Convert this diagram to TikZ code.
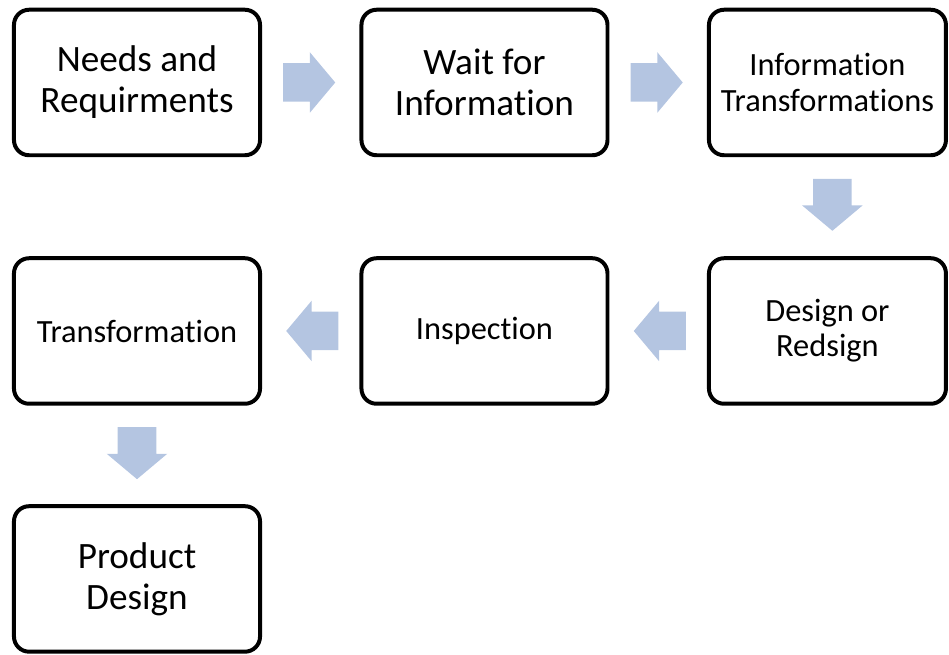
\documentclass[tikz,border=0pt]{standalone}
\usepackage{fontspec}
\setmainfont[RawFeature={-liga;-clig;-calt;-dlig}]{Carlito}
\usetikzlibrary{shapes.arrows}
\definecolor{flowblue}{RGB}{180,197,225}
\tikzset{
	stage/.style={shape=rectangle, draw, line width=3pt, rounded corners=0.4cm, minimum width=6.51cm, minimum height=3.85cm, align=center, inner sep=0pt},
	bigtext/.style={font=\fontsize{28}{31}\selectfont},
	smalltext/.style={font=\fontsize{24.4}{26.5}\selectfont},
	% block arrow hung on a path by its tail, turned with it
	flow/.style={shape=single arrow, fill=flowblue, sloped, allow upside down, anchor=tail, pos=0.215, inner xsep=0pt, inner ysep=0.5025cm, minimum height=1.376cm, single arrow head extend=0.291cm, single arrow tip angle=100},
}

\begin{document}
\begin{tikzpicture}
	\useasboundingbox (0, 0) rectangle (25.11, 17.33);
	% Boxes, first row:
	\node[stage, bigtext] (needs) at (3.625, 15.147) {Needs and\\Requirments};
	\node[stage, bigtext] (wait) at (12.819, 15.147) {Wait for\\Information};
	\node[stage, smalltext, minimum width=6.27cm] (infotrans) at (21.894, 15.147) {Information\\Transformations};
	% second row, read right to left:
	\node[stage, smalltext, minimum width=6.27cm] (design) at (21.894, 8.572) {Design or\\Redsign};
	\node[stage, smalltext] (inspect) at (12.819, 8.572) {Inspection};
	\node[stage, smalltext] (transf) at (3.625, 8.572) {Transformation};
	% result:
	\node[stage, bigtext] (product) at (3.625, 2.011) {Product\\Design};
	% Block arrows between the boxes:
	\path (needs) -- node[flow] (a1) {} (wait);
	\path (wait) -- node[flow] (a2) {} (infotrans);
	\path ([xshift=0.13cm]infotrans.south) -- node[flow] (a3) {} ([xshift=0.13cm]design.north);
	\path (design) -- node[flow] (a4) {} (inspect);
	\path (inspect) -- node[flow] (a5) {} (transf);
	\path (transf) -- node[flow] (a6) {} (product);
\end{tikzpicture}
\end{document}
